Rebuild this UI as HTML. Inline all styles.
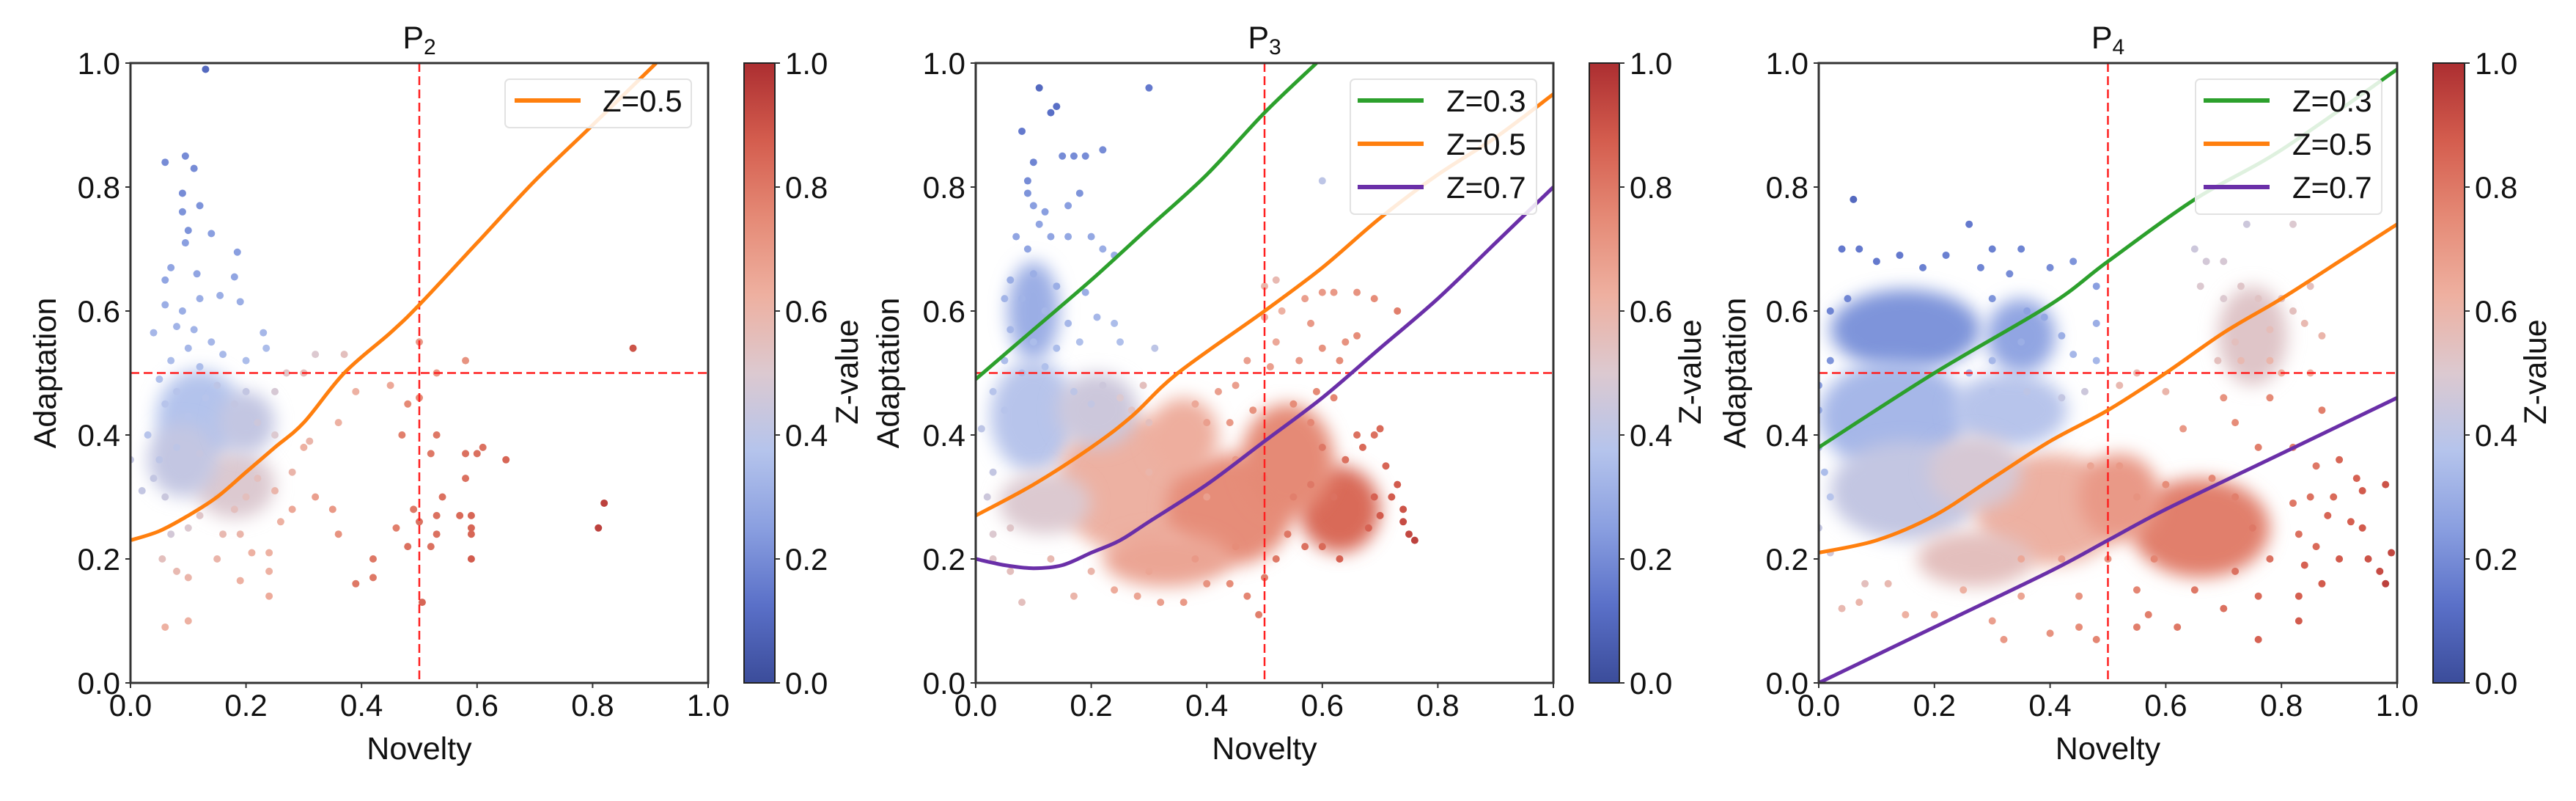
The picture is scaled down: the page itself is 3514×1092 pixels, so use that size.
<!DOCTYPE html>
<html><head><meta charset="utf-8"><style>
html,body{margin:0;padding:0;background:#fff;}
svg{display:block;font-family:"Liberation Sans",Arial,sans-serif;}
</style></head><body>
<svg id="fig" width="3514" height="1092" viewBox="0 0 3514 1092" xmlns="http://www.w3.org/2000/svg">
<defs>
<filter id="blur" x="-50%" y="-50%" width="200%" height="200%"><feGaussianBlur stdDeviation="12"/></filter>
<linearGradient id="cmap" x1="0" y1="1" x2="0" y2="0">
<stop offset="0" stop-color="#3b4c9a"/><stop offset="0.125" stop-color="#5a70c8"/><stop offset="0.25" stop-color="#8a9fe0"/><stop offset="0.375" stop-color="#b5c4ec"/><stop offset="0.5" stop-color="#dcc9d0"/><stop offset="0.625" stop-color="#eeb0a0"/><stop offset="0.75" stop-color="#e58a76"/><stop offset="0.875" stop-color="#d45d4e"/><stop offset="1" stop-color="#ac2e31"/>
</linearGradient>
</defs>
</svg>
<script>
// ---- data ----
const xTicks = [0,0.2,0.4,0.6,0.8,1.0];
const yTicks = [0,0.2,0.4,0.6,0.8,1.0];
const cbTicks = [0,0.2,0.4,0.6,0.8,1.0];
const titles = ["P2","P3","P4"];
const titleSubs = ["2","3","4"];
const p2Orange = [[0,0.23],[0.05,0.245],[0.1,0.27],[0.15,0.3],[0.2,0.34],[0.25,0.38],[0.3,0.42],[0.37,0.5],[0.45,0.565],[0.5,0.61],[0.6,0.71],[0.7,0.81],[0.8,0.9],[0.91,1.0]];
const p3Green = [[0,0.49],[0.1,0.57],[0.2,0.65],[0.3,0.735],[0.4,0.82],[0.5,0.92],[0.59,1.0]];
const p3Orange = [[0,0.27],[0.1,0.32],[0.2,0.38],[0.27,0.43],[0.35,0.5],[0.5,0.6],[0.6,0.67],[0.7,0.75],[0.8,0.82],[0.9,0.88],[1.0,0.95]];
const p3Purple = [[0,0.2],[0.05,0.19],[0.1,0.185],[0.15,0.19],[0.2,0.21],[0.25,0.23],[0.3,0.26],[0.4,0.32],[0.5,0.39],[0.6,0.46],[0.7,0.54],[0.8,0.62],[0.9,0.71],[1.0,0.8]];
const p4Green = [[0,0.38],[0.2,0.5],[0.4,0.61],[0.5,0.68],[0.65,0.78],[0.8,0.86],[1.0,0.99]];
const p4Orange = [[0,0.21],[0.1,0.23],[0.2,0.27],[0.3,0.33],[0.4,0.39],[0.5,0.44],[0.6,0.5],[0.7,0.565],[0.8,0.62],[0.9,0.68],[1.0,0.74]];
const p4Purple = [[0,0],[0.2,0.09],[0.4,0.18],[0.5,0.23],[0.6,0.28],[0.8,0.37],[1.0,0.46]];
// density regions: [cx, cy, rx, ry, z]
const p2Dense = [[0.12,0.43,0.075,0.075,0.37],[0.18,0.32,0.07,0.055,0.5],[0.09,0.36,0.06,0.06,0.42],[0.2,0.42,0.05,0.05,0.42]];
const p3Dense = [[0.1,0.43,0.075,0.09,0.38],[0.1,0.6,0.045,0.08,0.3],[0.27,0.32,0.13,0.11,0.62],[0.44,0.28,0.11,0.09,0.74],[0.63,0.28,0.07,0.07,0.84],[0.12,0.29,0.08,0.05,0.5],[0.33,0.2,0.11,0.045,0.66],[0.54,0.36,0.08,0.09,0.75],[0.21,0.44,0.07,0.06,0.45],[0.36,0.4,0.06,0.06,0.63]];
const p4Dense = [[0.15,0.57,0.13,0.065,0.22],[0.13,0.43,0.13,0.09,0.33],[0.15,0.31,0.13,0.08,0.42],[0.4,0.28,0.13,0.09,0.62],[0.66,0.25,0.12,0.08,0.78],[0.75,0.56,0.06,0.08,0.52],[0.27,0.2,0.1,0.045,0.55],[0.33,0.44,0.1,0.06,0.38],[0.35,0.56,0.06,0.06,0.27],[0.27,0.34,0.08,0.06,0.48],[0.52,0.3,0.07,0.07,0.7]];
// points: [x, y, z]
const p2Points = [[0.13,0.99,0.1],[0.06,0.84,0.2],[0.095,0.85,0.2],[0.11,0.83,0.2],[0.09,0.79,0.2],[0.09,0.76,0.22],[0.12,0.77,0.22],[0.10,0.73,0.22],[0.095,0.71,0.25],[0.14,0.725,0.25],[0.185,0.695,0.25],[0.06,0.65,0.27],[0.115,0.66,0.27],[0.18,0.655,0.27],[0.07,0.67,0.27],[0.06,0.61,0.3],[0.09,0.6,0.3],[0.12,0.62,0.3],[0.155,0.625,0.3],[0.19,0.615,0.3],[0.04,0.565,0.33],[0.08,0.575,0.32],[0.11,0.57,0.32],[0.14,0.55,0.33],[0.1,0.54,0.33],[0.23,0.565,0.33],[0.235,0.54,0.35],[0.07,0.52,0.35],[0.12,0.51,0.35],[0.05,0.49,0.36],[0.16,0.53,0.34],[0.2,0.52,0.35],
[0.03,0.40,0.38],[0.06,0.45,0.38],[0.08,0.47,0.38],[0.1,0.43,0.38],[0.13,0.46,0.38],[0.15,0.48,0.4],[0.18,0.45,0.42],[0.2,0.47,0.42],[0.22,0.42,0.45],[0.05,0.36,0.4],[0.08,0.38,0.4],[0.12,0.37,0.43],[0.0,0.36,0.42],[0.02,0.31,0.42],[0.04,0.33,0.42],[0.06,0.3,0.44],[0.25,0.4,0.5],[0.25,0.47,0.48],[0.27,0.5,0.52],[0.3,0.5,0.55],[0.32,0.53,0.5],[0.37,0.53,0.55],
[0.15,0.3,0.52],[0.18,0.28,0.55],[0.2,0.3,0.55],[0.22,0.33,0.55],[0.25,0.31,0.6],[0.12,0.27,0.52],[0.1,0.25,0.5],[0.07,0.24,0.47],[0.16,0.24,0.58],[0.19,0.24,0.6],[0.21,0.21,0.62],[0.24,0.21,0.62],[0.26,0.26,0.62],[0.28,0.34,0.6],[0.3,0.38,0.62],[0.31,0.39,0.6],[0.28,0.28,0.65],[0.32,0.3,0.68],[0.35,0.28,0.7],[0.36,0.24,0.72],[0.36,0.42,0.62],[0.39,0.47,0.62],[0.45,0.48,0.65],[0.06,0.09,0.62],[0.1,0.1,0.62],[0.1,0.17,0.6],[0.19,0.165,0.62],[0.24,0.14,0.64],[0.24,0.18,0.62],[0.15,0.2,0.6],[0.055,0.2,0.55],[0.08,0.18,0.58],
[0.5,0.55,0.7],[0.58,0.52,0.72],[0.53,0.5,0.7],[0.48,0.45,0.75],[0.5,0.46,0.75],[0.47,0.4,0.78],[0.53,0.4,0.8],[0.52,0.37,0.8],[0.58,0.37,0.82],[0.6,0.37,0.82],[0.61,0.38,0.82],[0.65,0.36,0.85],[0.58,0.33,0.82],[0.54,0.3,0.82],[0.49,0.28,0.8],[0.5,0.26,0.82],[0.53,0.27,0.82],[0.57,0.27,0.84],[0.59,0.27,0.85],[0.59,0.25,0.85],[0.59,0.24,0.85],[0.46,0.25,0.78],[0.53,0.24,0.82],[0.48,0.22,0.82],[0.52,0.22,0.82],[0.42,0.2,0.8],[0.59,0.2,0.88],[0.42,0.17,0.8],[0.39,0.16,0.8],[0.505,0.13,0.85],[0.87,0.54,0.9],[0.82,0.29,0.95],[0.81,0.25,0.95]];
const p3Points = [[0.11,0.96,0.1],[0.3,0.96,0.15],[0.13,0.92,0.12],[0.14,0.93,0.12],[0.08,0.89,0.15],[0.22,0.86,0.2],[0.1,0.84,0.18],[0.15,0.85,0.2],[0.17,0.85,0.2],[0.19,0.85,0.2],[0.09,0.81,0.2],[0.09,0.79,0.22],[0.18,0.79,0.22],[0.16,0.77,0.25],[0.12,0.76,0.25],[0.1,0.77,0.25],[0.11,0.74,0.27],[0.07,0.72,0.27],[0.09,0.7,0.27],[0.13,0.72,0.27],[0.16,0.72,0.28],[0.2,0.72,0.28],[0.22,0.7,0.3],[0.24,0.69,0.3],[0.06,0.65,0.3],[0.1,0.66,0.3],[0.14,0.64,0.3],[0.19,0.63,0.3],[0.05,0.62,0.32],[0.08,0.62,0.32],[0.12,0.6,0.33],[0.16,0.58,0.33],[0.21,0.59,0.33],[0.24,0.58,0.35],[0.06,0.57,0.33],[0.1,0.55,0.35],[0.14,0.54,0.35],[0.18,0.55,0.36],[0.25,0.55,0.36],[0.31,0.54,0.4],[0.6,0.81,0.4],[0.05,0.52,0.35],[0.08,0.5,0.36],[0.12,0.51,0.36],
[0.03,0.47,0.38],[0.01,0.41,0.4],[0.03,0.34,0.42],[0.02,0.3,0.45],[0.05,0.44,0.38],[0.17,0.47,0.4],[0.2,0.45,0.42],[0.22,0.48,0.45],[0.25,0.46,0.5],[0.27,0.44,0.52],[0.29,0.48,0.55],[0.3,0.42,0.55],
[0.5,0.64,0.6],[0.52,0.65,0.58],[0.5,0.59,0.62],[0.53,0.6,0.62],[0.52,0.55,0.65],[0.57,0.62,0.68],[0.6,0.63,0.7],[0.62,0.63,0.7],[0.66,0.63,0.72],[0.69,0.62,0.74],[0.73,0.6,0.78],[0.58,0.58,0.7],[0.64,0.55,0.72],[0.66,0.56,0.74],[0.63,0.52,0.74],[0.6,0.54,0.72],[0.56,0.52,0.7],[0.51,0.51,0.68],[0.47,0.52,0.68],[0.45,0.48,0.68],[0.42,0.47,0.68],[0.38,0.45,0.65],[0.4,0.42,0.68],[0.44,0.42,0.7],[0.48,0.44,0.72],[0.55,0.45,0.74],[0.59,0.47,0.75],[0.62,0.46,0.76],[0.58,0.42,0.76],[0.6,0.38,0.8],[0.66,0.4,0.82],[0.69,0.4,0.82],[0.7,0.41,0.84],[0.67,0.38,0.84],[0.64,0.36,0.82],[0.71,0.35,0.85],[0.73,0.32,0.88],[0.72,0.3,0.88],[0.74,0.28,0.9],[0.74,0.26,0.92],[0.75,0.24,0.93],[0.76,0.23,0.95],[0.69,0.3,0.86],[0.7,0.27,0.88],[0.68,0.25,0.86],[0.63,0.2,0.86],[0.6,0.22,0.84],[0.57,0.22,0.82],[0.54,0.24,0.8],[0.52,0.2,0.8],[0.5,0.17,0.78],[0.49,0.11,0.78],[0.47,0.14,0.76],[0.44,0.16,0.74],[0.4,0.16,0.72],[0.36,0.13,0.7],[0.32,0.13,0.68],[0.28,0.14,0.66],[0.24,0.15,0.64],[0.17,0.14,0.6],[0.08,0.13,0.55],[0.06,0.18,0.55],[0.03,0.2,0.52],[0.03,0.24,0.5],[0.06,0.25,0.52],[0.13,0.2,0.58],[0.2,0.18,0.6],[0.3,0.18,0.66],[0.38,0.2,0.7],[0.45,0.22,0.74],[0.55,0.3,0.78],[0.58,0.32,0.8],[0.62,0.3,0.82],[0.5,0.33,0.76],[0.52,0.38,0.75],[0.35,0.38,0.63],[0.3,0.34,0.6],[0.4,0.3,0.68],[0.45,0.36,0.7]];
const p4Points = [[0.06,0.78,0.1],[0.26,0.74,0.15],[0.04,0.7,0.15],[0.07,0.7,0.15],[0.14,0.69,0.15],[0.22,0.69,0.17],[0.3,0.7,0.17],[0.35,0.7,0.18],[0.4,0.67,0.2],[0.44,0.68,0.22],[0.1,0.68,0.15],[0.18,0.67,0.17],[0.28,0.67,0.18],[0.33,0.66,0.2],[0.48,0.64,0.25],[0.02,0.6,0.18],[0.05,0.62,0.18],[0.3,0.62,0.22],[0.36,0.6,0.26],[0.39,0.59,0.28],[0.42,0.56,0.3],[0.48,0.58,0.3],[0.44,0.53,0.33],[0.48,0.52,0.33],[0.35,0.55,0.3],[0.3,0.52,0.33],[0.26,0.5,0.33],[0.0,0.48,0.25],[0.02,0.52,0.22],[0.0,0.44,0.28],[0.3,0.47,0.38],[0.36,0.47,0.4],[0.42,0.46,0.42],[0.46,0.47,0.45],[0.0,0.38,0.33],[0.01,0.34,0.35],[0.02,0.3,0.38],[0.0,0.25,0.42],[0.02,0.21,0.46],
[0.65,0.7,0.45],[0.67,0.68,0.47],[0.7,0.68,0.48],[0.74,0.74,0.45],[0.82,0.74,0.5],[0.66,0.64,0.5],[0.7,0.62,0.5],[0.73,0.64,0.52],[0.76,0.62,0.53],[0.8,0.62,0.55],[0.85,0.64,0.55],[0.82,0.6,0.55],[0.84,0.58,0.58],[0.87,0.56,0.6],[0.78,0.57,0.56],[0.72,0.55,0.55],[0.69,0.52,0.55],[0.73,0.52,0.58],[0.78,0.52,0.6],[0.85,0.5,0.62],[0.8,0.5,0.62],[0.6,0.47,0.6],[0.55,0.5,0.58],[0.52,0.48,0.58],
[0.7,0.46,0.72],[0.78,0.46,0.75],[0.87,0.44,0.78],[0.63,0.41,0.7],[0.72,0.42,0.74],[0.76,0.38,0.78],[0.82,0.38,0.78],[0.86,0.35,0.8],[0.9,0.36,0.85],[0.93,0.33,0.86],[0.94,0.31,0.88],[0.98,0.32,0.9],[0.89,0.3,0.84],[0.85,0.3,0.82],[0.82,0.29,0.8],[0.88,0.27,0.85],[0.92,0.26,0.87],[0.94,0.25,0.88],[0.83,0.24,0.82],[0.86,0.22,0.84],[0.9,0.2,0.88],[0.95,0.2,0.9],[0.97,0.18,0.92],[0.98,0.16,0.95],[0.99,0.21,0.93],[0.84,0.19,0.86],[0.87,0.16,0.88],[0.83,0.14,0.87],[0.83,0.1,0.88],[0.76,0.14,0.84],[0.76,0.07,0.86],[0.7,0.12,0.82],[0.62,0.09,0.8],[0.55,0.09,0.78],[0.57,0.11,0.78],[0.48,0.07,0.76],[0.45,0.09,0.74],[0.4,0.08,0.72],[0.32,0.07,0.7],[0.3,0.1,0.68],[0.2,0.11,0.65],[0.15,0.11,0.62],[0.07,0.13,0.6],[0.04,0.12,0.58],[0.08,0.16,0.55],[0.12,0.16,0.58],[0.25,0.15,0.62],[0.35,0.14,0.66],[0.45,0.14,0.72],[0.55,0.15,0.76],[0.65,0.15,0.8],[0.72,0.18,0.82],[0.78,0.2,0.82],[0.75,0.25,0.8],[0.72,0.3,0.78],[0.68,0.33,0.76],[0.6,0.32,0.74],[0.55,0.3,0.72],[0.52,0.35,0.7],[0.47,0.35,0.66],[0.58,0.2,0.76],[0.5,0.2,0.72],[0.42,0.2,0.68],[0.35,0.2,0.65]];

// ---- layout ----
const NS="http://www.w3.org/2000/svg";
const svgRoot=document.getElementById('fig');
const defsEl=svgRoot.querySelector('defs');
const cstops=[[59,76,154],[90,112,200],[138,159,224],[181,196,236],[220,201,208],[238,176,160],[229,138,118],[212,93,78],[172,46,49]];
function cmap(z){z=Math.max(0,Math.min(1,z));const t=z*8,i=Math.min(7,Math.floor(t)),f=t-i;const a=cstops[i],b=cstops[i+1];return `rgb(${Math.round(a[0]+(b[0]-a[0])*f)},${Math.round(a[1]+(b[1]-a[1])*f)},${Math.round(a[2]+(b[2]-a[2])*f)})`;}
function mk(tag,attrs,parent){const e=document.createElementNS(NS,tag);for(const k in attrs)e.setAttribute(k,attrs[k]);(parent||svgRoot).appendChild(e);return e;}
function smoothPath(P){let d='M'+P[0][0].toFixed(1)+','+P[0][1].toFixed(1);
 for(let i=0;i<P.length-1;i++){const p0=P[Math.max(0,i-1)],p1=P[i],p2=P[i+1],p3=P[Math.min(P.length-1,i+2)];
  const c1=[p1[0]+(p2[0]-p0[0])/6,p1[1]+(p2[1]-p0[1])/6],c2=[p2[0]-(p3[0]-p1[0])/6,p2[1]-(p3[1]-p1[1])/6];
  d+=` C${c1[0].toFixed(1)},${c1[1].toFixed(1)} ${c2[0].toFixed(1)},${c2[1].toFixed(1)} ${p2[0].toFixed(1)},${p2[1].toFixed(1)}`;}
 return d;}
const panels=[
 {L:178,R:966,cbL:1015,cbR:1057,ylab:61,zlab:1155,dense:p2Dense,pts:p2Points,lines:[["Z=0.5","#ff7f0e",p2Orange]],leg:[689,108,254,66,702,822]},
 {L:1331,R:2119,cbL:2168,cbR:2209,ylab:1211,zlab:2305,dense:p3Dense,pts:p3Points,lines:[["Z=0.3","#2ca02c",p3Green],["Z=0.5","#ff7f0e",p3Orange],["Z=0.7","#6a2fa8",p3Purple]],leg:[1842,108,254,184,1852,1973]},
 {L:2481,R:3270,cbL:3319,cbR:3362,ylab:2366,zlab:3458,dense:p4Dense,pts:p4Points,lines:[["Z=0.3","#2ca02c",p4Green],["Z=0.5","#ff7f0e",p4Orange],["Z=0.7","#6a2fa8",p4Purple]],leg:[2995,108,254,184,3006,3127]}
];
const plotTop=86, plotBot=931;
panels.forEach((p,pi)=>{
 const g=mk('g',{});
 
 
 const sx=v=>p.L+v*(p.R-p.L), sy=v=>plotBot-v*(plotBot-plotTop);
 const cid='clip'+pi;
 const cp=mk('clipPath',{id:cid},defsEl);
 mk('rect',{x:p.L,y:plotTop,width:p.R-p.L,height:plotBot-plotTop},cp);
 const plot=mk('g',{'clip-path':`url(#${cid})`},g);
 
 
 p.dense.forEach(d=>{
  const e=mk('ellipse',{cx:sx(d[0]),cy:sy(d[1]),rx:d[2]*(p.R-p.L),ry:d[3]*(plotBot-plotTop),fill:cmap(d[4]),opacity:1,filter:'url(#blur)'},plot);
  
  
 });
 p.pts.forEach(d=>{
  const c=mk('circle',{cx:sx(d[0]),cy:sy(d[1]),r:5,fill:cmap(d[2])},plot);
  
  
 });
 const h=mk('line',{x1:p.L,x2:p.R,y1:sy(0.5),y2:sy(0.5),stroke:'#ff2020','stroke-width':2.5,'stroke-dasharray':'12,6'},plot);
 
 
 const v=mk('line',{x1:sx(0.5),x2:sx(0.5),y1:plotTop,y2:plotBot,stroke:'#ff2020','stroke-width':2.5,'stroke-dasharray':'12,6'},plot);
 
 
 p.lines.forEach(ln=>{
  const d=smoothPath(ln[2].map(q=>[sx(q[0]),sy(q[1])]));
  const pa=mk('path',{d:d,fill:'none',stroke:ln[1],'stroke-width':5,'stroke-linejoin':'round'},plot);
  
  
 });
 const fr=mk('rect',{x:p.L,y:plotTop,width:p.R-p.L,height:plotBot-plotTop,fill:'none',stroke:'#333','stroke-width':3},g);
 
 
 xTicks.forEach(t=>{
  mk('line',{x1:sx(t),x2:sx(t),y1:plotBot,y2:plotBot+7,stroke:'#333','stroke-width':2},g);
  const tx=mk('text',{x:sx(t),y:976,'font-size':42,'text-anchor':'middle',fill:'#111'},g);
  tx.textContent=t.toFixed(1);
  
  
 });
 yTicks.forEach(t=>{
  mk('line',{x1:p.L-7,x2:p.L,y1:sy(t),y2:sy(t),stroke:'#333','stroke-width':2},g);
  const tx=mk('text',{x:p.L-14,y:sy(t)+15,'font-size':42,'text-anchor':'end',fill:'#111'},g);
  tx.textContent=t.toFixed(1);
  
  
 });
 const xl=mk('text',{x:(p.L+p.R)/2,y:1035,'font-size':43,'text-anchor':'middle',fill:'#111'},g);
 xl.textContent='Novelty';
 
 
 const cy=(plotTop+plotBot)/2;
 const yl=mk('text',{x:p.ylab,y:cy+15,'font-size':43,'text-anchor':'middle',fill:'#111',transform:`rotate(-90 ${p.ylab} ${cy})`},g);
 yl.textContent='Adaptation';
 
 
 const ti=mk('text',{x:(p.L+p.R)/2,y:66,'font-size':43,'text-anchor':'middle',fill:'#111'},g);
 ti.textContent='P';
 const ts=mk('tspan',{'font-size':30,dy:8},ti);
 ts.textContent=titleSubs[pi];
 
 
 const cb=mk('rect',{x:p.cbL,y:plotTop,width:p.cbR-p.cbL,height:plotBot-plotTop,fill:'url(#cmap)',stroke:'#222','stroke-width':2},g);
 
 
 cbTicks.forEach(t=>{
  mk('line',{x1:p.cbR,x2:p.cbR+7,y1:sy(t),y2:sy(t),stroke:'#333','stroke-width':2},g);
  const tx=mk('text',{x:p.cbR+14,y:sy(t)+15,'font-size':42,fill:'#111'},g);
  tx.textContent=t.toFixed(1);
  
  
 });
 const zl=mk('text',{x:p.zlab,y:522,'font-size':43,'text-anchor':'middle',fill:'#111',transform:`rotate(-90 ${p.zlab} 507)`},g);
 zl.textContent='Z-value';
 
 
 const lx=p.leg[0],ly=p.leg[1],lw=p.leg[2],lh=p.leg[3],lineX=p.leg[4],textX=p.leg[5];
 const lg=mk('g',{},g);
 
 
 mk('rect',{x:lx,y:ly,width:lw,height:lh,rx:6,fill:'rgba(255,255,255,0.85)',stroke:'#e2e2e2','stroke-width':2},lg);
 p.lines.forEach((ln,i)=>{
  const yy=ly+29+i*59;
  const ent=mk('g',{},lg);
  
  
  mk('line',{x1:lineX,x2:lineX+90,y1:yy,y2:yy,stroke:ln[1],'stroke-width':6},ent);
  const tx=mk('text',{x:textX,y:yy+15,'font-size':42,fill:'#111'},ent);
  tx.textContent=ln[0];
 });
});
</script>
</body></html>
